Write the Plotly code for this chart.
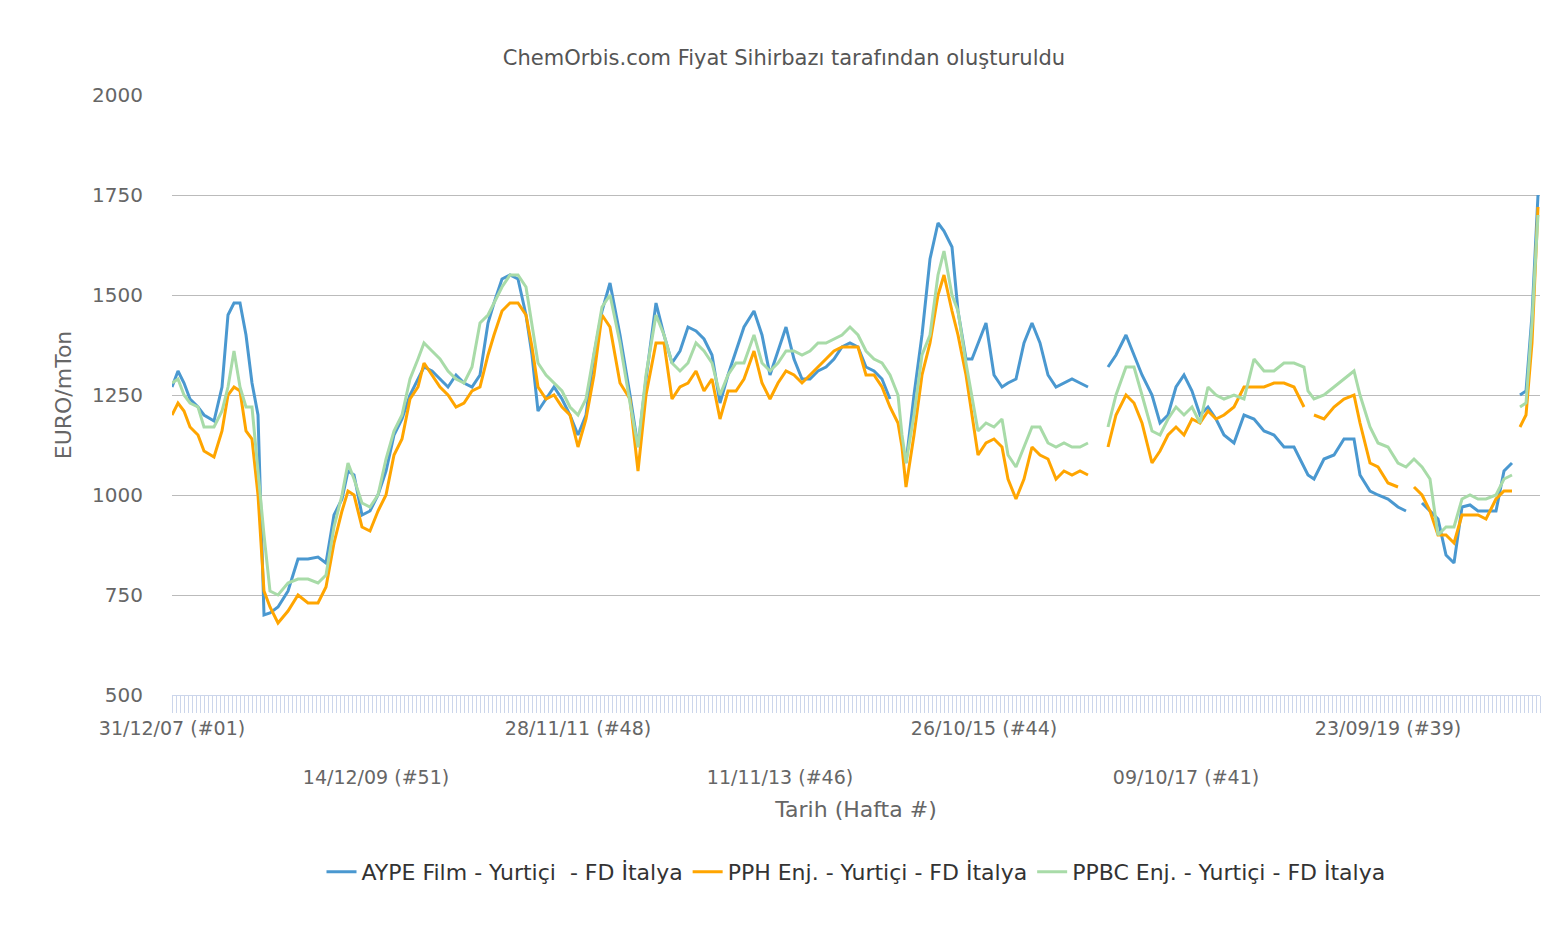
import plotly.graph_objects as go

# week index (plot position) and prices
weeks = [0, 3, 6, 9, 13, 16, 21, 25, 28, 31,
         34, 37, 40, 43, 46, 49, 53, 58, 63, 68,
         73, 77, 81, 85, 88, 91, 95, 99, 103, 107,
         111, 115, 119, 123, 126, 130, 134, 138, 142, 146,
         150, 154, 158, 161, 165, 169, 173, 177, 180, 183,
         187, 191, 195, 199, 203, 207, 211, 215, 219, 224,
         229, 233, 237, 242, 246, 250, 254, 258, 262, 266,
         270, 274, 278, 282, 286, 291, 295, 299, 303, 307,
         311, 315, 319, 323, 327, 331, 335, 339, 343, 347,
         351, 355, 359, 363, 365, 367, 371, 375, 379, 383,
         386, 390, 393, 397, 400, 403, 407, 411, 415, 418,
         422, 426, 430, 434, 438, 442, 446, 450, 454, 458,
         465, 468, 472, 477, 481, 485, 490, 494, 498, 502,
         506, 510, 514, 518, 522, 526, 531, 536, 541, 546,
         551, 556, 561, 566, 568, 571, 576, 581, 586, 591,
         594, 599, 603, 608, 613, 617, 621, 625, 629, 633,
         637, 641, 645, 649, 653, 657, 662, 666, 670, 672,
         674, 677, 680, 683]

aype = [1270, 1310, 1280, 1240, 1220, 1200, 1185, 1270, 1450, 1480,
        1480, 1400, 1280, 1200, 700, 705, 720, 760, 840, 840,
        845, 830, 950, 990, 1060, 1050, 950, 960, 1000, 1060,
        1150, 1190, 1250, 1290, 1320, 1310, 1290, 1270, 1300, 1280,
        1270, 1300, 1430, 1480, 1540, 1550, 1540, 1450, 1350, 1210,
        1240, 1270, 1240, 1200, 1150, 1200, 1350, 1460, 1530, 1400,
        1250, 1120, 1290, 1480, 1400, 1330, 1360, 1420, 1410, 1390,
        1350, 1230, 1300, 1360, 1420, 1460, 1400, 1300, 1360, 1420,
        1340, 1290, 1290, 1310, 1320, 1340, 1370, 1380, 1370, 1320,
        1310, 1290, 1240, None, 1130, 1080, 1250, 1400, 1590, 1680,
        1660, 1620, 1460, 1340, 1340, 1380, 1430, 1300, 1270, 1280,
        1290, 1380, 1430, 1380, 1300, 1270, 1280, 1290, 1280, 1270,
        None, 1320, 1350, 1400, 1350, 1300, 1250, 1180, 1200, 1270,
        1300, 1260, 1200, 1220, 1190, 1150, 1130, 1200, 1190, 1160,
        1150, 1120, 1120, 1070, 1050, 1040, 1090, 1100, 1140, 1140,
        1050, 1010, 1000, 990, 970, 960, None, 980, 960, 940,
        850, 830, 970, 975, 960, 960, 960, 1060, 1080, None,
        1250, 1260, 1450, 1750]

pph = [1200, 1230, 1210, 1170, 1150, 1110, 1095, 1160, 1250, 1270,
       1260, 1160, 1140, 1000, 760, 720, 680, 710, 750, 730,
       730, 770, 880, 960, 1010, 1000, 920, 910, 960, 1000,
       1100, 1140, 1240, 1270, 1330, 1300, 1270, 1250, 1220, 1230,
       1260, 1270, 1350, 1400, 1460, 1480, 1480, 1450, 1370, 1270,
       1240, 1250, 1220, 1200, 1120, 1190, 1300, 1450, 1420, 1280,
       1240, 1060, 1250, 1380, 1380, 1240, 1270, 1280, 1310, 1260,
       1290, 1190, 1260, 1260, 1290, 1360, 1280, 1240, 1280, 1310,
       1300, 1280, 1300, 1320, 1340, 1360, 1370, 1370, 1370, 1300,
       1300, 1270, 1220, 1180, 1120, 1020, 1150, 1300, 1380, 1500,
       1550, 1460, 1400, 1300, 1200, 1100, 1130, 1140, 1120, 1040,
       990, 1040, 1120, 1100, 1090, 1040, 1060, 1050, 1060, 1050,
       None, 1120, 1200, 1250, 1230, 1180, 1080, 1110, 1150, 1170,
       1150, 1190, 1180, 1210, 1190, 1200, 1220, 1270, 1270, 1270,
       1280, 1280, 1270, 1220, None, 1200, 1190, 1220, 1240, 1250,
       1180, 1080, 1070, 1030, 1020, None, 1020, 1000, 960, 900,
       900, 880, 950, 950, 950, 940, 990, 1010, 1010, None,
       1170, 1200, 1380, 1720]

ppbc = [1280, 1290, 1250, 1230, 1220, 1170, 1170, 1210, 1270, 1360,
        1270, 1220, 1220, 1050, 900, 760, 750, 780, 790, 790,
        780, 800, 920, 1000, 1080, 1040, 980, 970, 1000, 1090,
        1160, 1200, 1290, 1340, 1380, 1360, 1340, 1310, 1290, 1280,
        1320, 1430, 1450, 1480, 1520, 1550, 1550, 1520, 1420, 1330,
        1300, 1280, 1260, 1220, 1200, 1240, 1360, 1470, 1500, 1380,
        1230, 1120, 1300, 1450, 1400, 1330, 1310, 1330, 1380, 1360,
        1330, 1250, 1300, 1330, 1330, 1400, 1330, 1310, 1330, 1360,
        1360, 1350, 1360, 1380, 1380, 1390, 1400, 1420, 1400, 1360,
        1340, 1330, 1300, 1250, 1150, 1080, 1200, 1350, 1400, 1550,
        1610, 1500, 1460, 1330, 1250, 1160, 1180, 1170, 1190, 1100,
        1070, 1120, 1170, 1170, 1130, 1120, 1130, 1120, 1120, 1130,
        None, 1170, 1250, 1320, 1320, 1250, 1160, 1150, 1190, 1220,
        1200, 1220, 1180, 1270, 1250, 1240, 1250, 1240, 1340, 1310,
        1310, 1330, 1330, 1320, 1260, 1240, 1250, 1270, 1290, 1310,
        1250, 1170, 1130, 1120, 1080, 1070, 1090, 1070, 1040, 900,
        920, 920, 990, 1000, 990, 990, 1000, 1040, 1050, None,
        1220, 1230, 1430, 1700]

tick_pos = [0, 102, 203, 304, 406, 507, 608]
tick_labels = ["31/12/07 (#01)", "<br><br>14/12/09 (#51)", "28/11/11 (#48)",
               "<br><br>11/11/13 (#46)", "26/10/15 (#44)",
               "<br><br>09/10/17 (#41)", "23/09/19 (#39)"]

series = [
    ("AYPE Film - Yurtiçi  - FD İtalya", aype, "#4a98d0"),
    ("PPH Enj. - Yurtiçi - FD İtalya", pph, "#ffa500"),
    ("PPBC Enj. - Yurtiçi - FD İtalya", ppbc, "#a8dba8"),
]

fig = go.Figure()
for name, vals, col in series:
    fig.add_trace(go.Scatter(x=weeks, y=vals, name=name, mode="lines",
                             line=dict(color=col, width=3), connectgaps=False))

fig.update_layout(
    width=1552, height=930, template="plotly_white",
    font=dict(family="DejaVu Sans", color="#666666", size=19),
    title=dict(text="ChemOrbis.com Fiyat Sihirbazı tarafından oluşturuldu",
               x=0.5, xanchor="center", y=0.955, font=dict(size=21, color="#555555")),
    margin=dict(l=164, r=20, t=87, b=243, autoexpand=False),
    legend=dict(orientation="h", x=0.5, xanchor="center", y=-0.26,
                font=dict(size=22, color="#333333")),
    plot_bgcolor="white",
)
fig.update_xaxes(range=[0, 684], tickvals=tick_pos, ticktext=tick_labels,
                 showgrid=False, zeroline=False, ticks="", showline=True,
                 linecolor="#ccd6eb", ticklabelstandoff=16,
                 tickfont=dict(size=19, color="#666666"),
                 minor=dict(ticks="outside", dtick=2, tick0=0, ticklen=17,
                            tickcolor="#ccd6eb", showgrid=False),
                 title=dict(text="Tarih (Hafta #)", font=dict(size=22, color="#666666"),
                            standoff=14))
fig.update_yaxes(range=[500, 2000], dtick=250, gridcolor="#bbbbbb",
                 zeroline=False, showline=False, tickfont=dict(size=20, color="#666666"),
                 ticklabelstandoff=28,
                 title=dict(text="EURO/mTon", font=dict(size=22, color="#666666"),
                            standoff=14))

fig.write_html("out.html")
